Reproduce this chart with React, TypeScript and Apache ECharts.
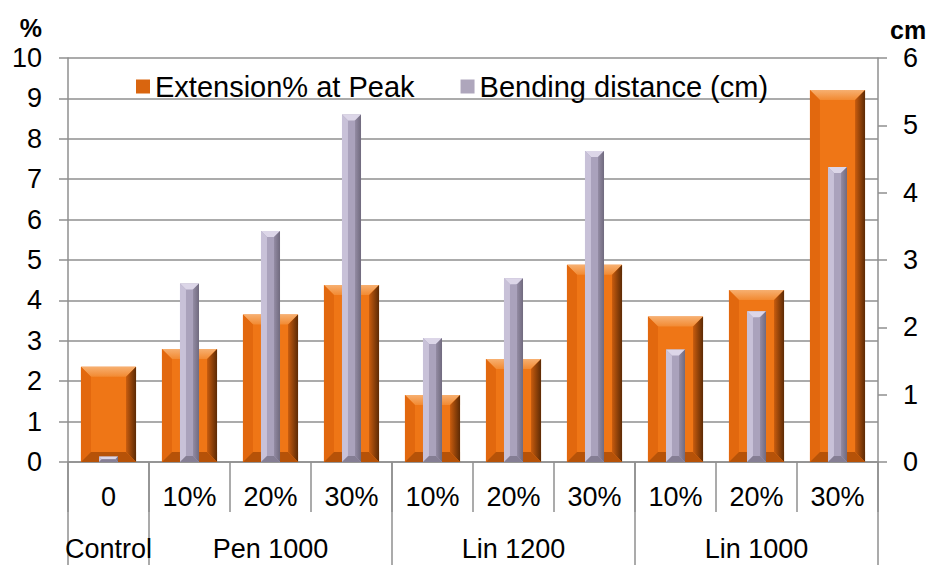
import React, { useEffect, useRef } from "react";
import * as echarts from "echarts";

const categories = ["0", "10%", "20%", "30%", "10%", "20%", "30%", "10%", "20%", "30%"];
const groupLabels = ["Control", "", "Pen 1000", "", "", "Lin 1200", "", "", "Lin 1000", ""];
const groupBoundaries = [0, 1, 4, 7, 10];
const extensionAtPeak = [2.36, 2.8, 3.65, 4.38, 1.66, 2.55, 4.88, 3.6, 4.26, 9.21];
const bendingDistance = [0.08, 2.65, 3.43, 5.16, 1.84, 2.73, 4.62, 1.67, 2.24, 4.38];
const leftTicks = { min: 0, max: 10, interval: 1 };
const rightTicks = { min: 0, max: 6, interval: 1 };

const FONT = "'Liberation Sans', Arial, sans-serif";
const GRID_COLOR = "#8f8f8f";

type Palette = {
  face: any;
  top: any;
  left: any;
  right: any;
  bottom: any;
};

const orangePal: Palette = {
  face: "#ef7616",
  top: { type: "linear", x: 0, y: 0, x2: 0, y2: 1, colorStops: [{ offset: 0, color: "#f7b071" }, { offset: 1, color: "#f28a32" }] },
  left: "#e2680e",
  right: { type: "linear", x: 0, y: 0, x2: 1, y2: 0, colorStops: [{ offset: 0, color: "#c85c0e" }, { offset: 1, color: "#5c2a05" }] },
  bottom: "#b65208",
};
const greyPal: Palette = {
  face: "#aaa2bc",
  top: "#dcd6e8",
  left: "#c8c1d8",
  right: { type: "linear", x: 0, y: 0, x2: 1, y2: 0, colorStops: [{ offset: 0, color: "#938ba3" }, { offset: 1, color: "#706a7e" }] },
  bottom: "#857e94",
};

function makeRender(widthRatio: number, bevel: number, pal: Palette) {
  return (params: any, api: any) => {
    const idx = api.value(0);
    const val = api.value(1);
    const top = api.coord([idx, val]);
    const base = api.coord([idx, 0]);
    const band = api.size([1, 0])[0];
    const w = band * widthRatio;
    const x0 = top[0] - w / 2;
    const x1 = top[0] + w / 2;
    const yT = top[1];
    const yB = base[1];
    const h = yB - yT;
    const b = Math.max(0, Math.min(bevel, h / 2, w / 2));
    return {
      type: "group",
      children: [
        { type: "rect", shape: { x: x0, y: yT, width: w, height: h }, style: { fill: pal.face } },
        {
          type: "polygon",
          shape: { points: [[x0, yT], [x1, yT], [x1 - b, yT + b], [x0 + b, yT + b]] },
          style: { fill: pal.top },
        },
        {
          type: "polygon",
          shape: { points: [[x0, yT], [x0 + b, yT + b], [x0 + b, yB - b], [x0, yB]] },
          style: { fill: pal.left },
        },
        {
          type: "polygon",
          shape: { points: [[x1, yT], [x1, yB], [x1 - b, yB - b], [x1 - b, yT + b]] },
          style: { fill: pal.right },
        },
        {
          type: "polygon",
          shape: { points: [[x0, yB], [x0 + b, yB - b], [x1 - b, yB - b], [x1, yB]] },
          style: { fill: pal.bottom },
        },
      ],
    };
  };
}

export default function App() {
  const ref = useRef<HTMLDivElement>(null);
  useEffect(() => {
    if (!ref.current) return;
    const chart = echarts.init(ref.current, null, { renderer: "svg" });
    chart.setOption({
      animation: false,
      backgroundColor: "#ffffff",
      textStyle: { fontFamily: FONT, color: "#000" },
      grid: { left: 68, right: 57, top: 58, bottom: 103, containLabel: false },
      legend: {
        left: 131,
        top: 67,
        itemWidth: 14,
        itemHeight: 14,
        itemGap: 46,
        selectedMode: false,
        textStyle: { fontSize: 29, fontFamily: FONT, color: "#000", padding: [0, 0, 0, 0] },
        data: [
          { name: "Extension% at Peak", icon: "rect", itemStyle: { color: "#d9650f" } },
          { name: "Bending distance (cm)", icon: "rect", itemStyle: { color: "#aea6bc" } },
        ],
      },
      xAxis: [
        {
          type: "category",
          data: categories,
          position: "bottom",
          axisLine: { show: true, lineStyle: { color: GRID_COLOR, width: 1.5 } },
          axisTick: { show: true, length: 50, interval: 0, lineStyle: { color: GRID_COLOR, width: 1.5 } },
          axisLabel: { interval: 0, fontSize: 27, color: "#000", margin: 21, fontFamily: FONT },
          splitLine: { show: false },
        },
        {
          type: "category",
          data: groupLabels,
          position: "bottom",
          axisLine: { show: false },
          axisTick: {
            show: true,
            length: 103,
            interval: (i: number) => groupBoundaries.indexOf(i) >= 0,
            lineStyle: { color: GRID_COLOR, width: 1.5 },
          },
          axisLabel: { interval: 0, fontSize: 27, color: "#000", margin: 73, fontFamily: FONT },
          splitLine: { show: false },
        },
      ],
      yAxis: [
        {
          type: "value",
          min: leftTicks.min,
          max: leftTicks.max,
          interval: leftTicks.interval,
          name: "%",
          nameLocation: "end",
          nameGap: 18,
          nameTextStyle: { fontSize: 25, fontWeight: "bold", color: "#000", align: "right", padding: [0, 26, 0, 0], fontFamily: FONT },
          axisLine: { show: true, lineStyle: { color: GRID_COLOR, width: 1.5 } },
          axisTick: { show: true, length: 9, lineStyle: { color: GRID_COLOR, width: 1.5 } },
          axisLabel: { fontSize: 27, color: "#000", margin: 26, fontFamily: FONT },
          splitLine: { show: true, lineStyle: { color: GRID_COLOR, width: 1.5 } },
        },
        {
          type: "value",
          min: rightTicks.min,
          max: rightTicks.max,
          interval: rightTicks.interval,
          position: "right",
          name: "cm",
          nameLocation: "end",
          nameGap: 16,
          nameTextStyle: { fontSize: 25, fontWeight: "bold", color: "#000", align: "left", padding: [0, 0, 0, 12], fontFamily: FONT },
          axisLine: { show: true, lineStyle: { color: GRID_COLOR, width: 1.5 } },
          axisTick: { show: true, length: 9, lineStyle: { color: GRID_COLOR, width: 1.5 } },
          axisLabel: { fontSize: 27, color: "#000", margin: 25, fontFamily: FONT },
          splitLine: { show: false },
        },
      ],
      series: [
        {
          name: "Extension% at Peak",
          type: "custom",
          xAxisIndex: 0,
          yAxisIndex: 0,
          itemStyle: { color: "#d9650f" },
          renderItem: makeRender(0.68, 10, orangePal),
          encode: { x: 0, y: 1 },
          data: extensionAtPeak.map((v, i) => [i, v]),
        },
        {
          name: "Bending distance (cm)",
          type: "custom",
          xAxisIndex: 0,
          yAxisIndex: 1,
          itemStyle: { color: "#aea6bc" },
          renderItem: makeRender(0.235, 6, greyPal),
          encode: { x: 0, y: 1 },
          data: bendingDistance.map((v, i) => [i, v]),
        },
      ],
    });
    return () => chart.dispose();
  }, []);
  return <div ref={ref} style={{ position: "absolute", left: 0, top: 0, width: 935, height: 565 }} />;
}
